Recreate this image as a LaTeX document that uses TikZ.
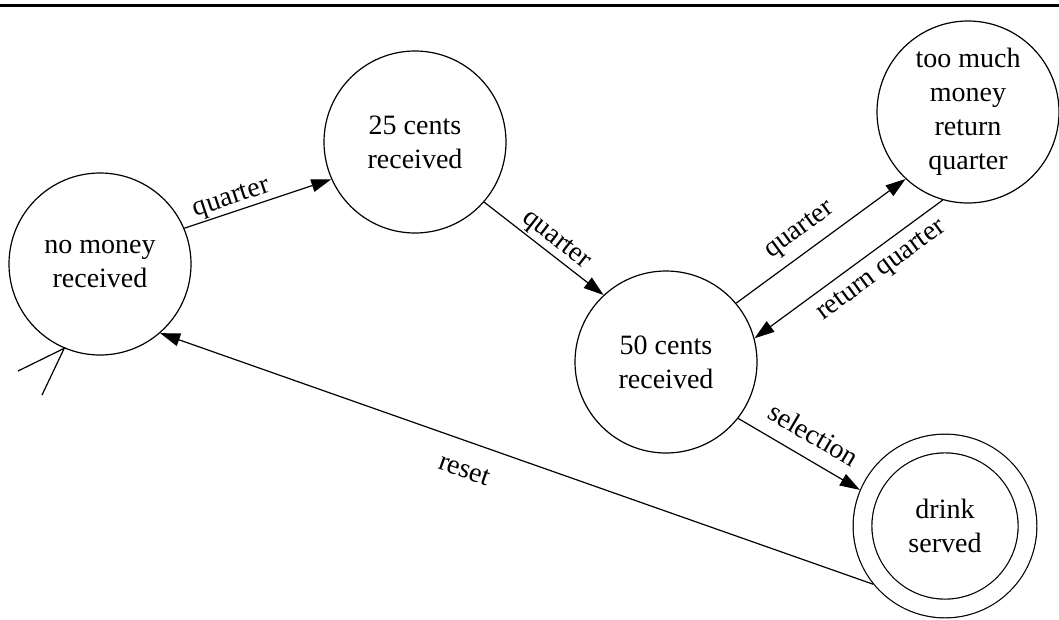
\documentclass[tikz,border=0pt]{standalone}
\usepackage{fontspec}
\setmainfont{Liberation Serif}
\usetikzlibrary{arrows.meta}

\newcommand\schrift{\fontsize{28}{34}\selectfont}
\tikzset{
    zustand/.style={circle, draw, line width=1.2pt, minimum size=182pt, inner sep=0pt, align=center, font=\schrift},
    endzustand/.style={zustand, double, double distance=17.5pt, minimum size=165pt, outer sep=10pt},
    marke/.style={sloped, font=\schrift},
    pfeil/.style={-{Triangle[length=20pt,width=13pt]}, line width=1.2pt}
}

\begin{document}
\begin{tikzpicture}[x=1pt, y=-1pt]
    \useasboundingbox (0,0) rectangle (1059,619);
    \draw[line width=2.7pt] (0,5.3) -- (1059,5.3);
    \path node[zustand] (none) at (100,264) {no money\\received}
        node[zustand] (c25) at (415,142) {25 cents\\received}
        node[zustand] (c50) at (666,362) {50 cents\\received}
        node[zustand] (much) at (968,112) {too much\\money\\return\\quarter}
        node[endzustand] (drink) at (945,526) {drink\\served};
    \coordinate (s1) at (18,371);
    \coordinate (s2) at (42,395);
       \draw[line width=1.2pt] (s1) -- (none.247.4) -- (s2);
       \draw[pfeil] (none.23.6) -- node[marke, pos=0.35, above, inner sep=1pt] {quarter} (c25.204);
       \draw[pfeil] (c25.319) -- node[marke, pos=0.53, above, inner sep=2pt] {quarter} (c50.133.6);
       \draw[pfeil] (c50.40.9) -- node[marke, pos=0.45, above, inner sep=9pt] {quarter} (much.227.2);
       \draw[pfeil] (much.254.6) -- node[marke, pos=0.39, below, inner sep=10pt] {return quarter} (c50.15.3);
       \draw[pfeil] (c50.322) -- node[marke, pos=0.52, above, inner sep=14pt] {selection} (drink.157.5);
       \draw[pfeil] (drink.219.9) -- node[marke, pos=0.56, below, inner sep=19pt] {reset} (none.311.2);
\end{tikzpicture}
\end{document}
